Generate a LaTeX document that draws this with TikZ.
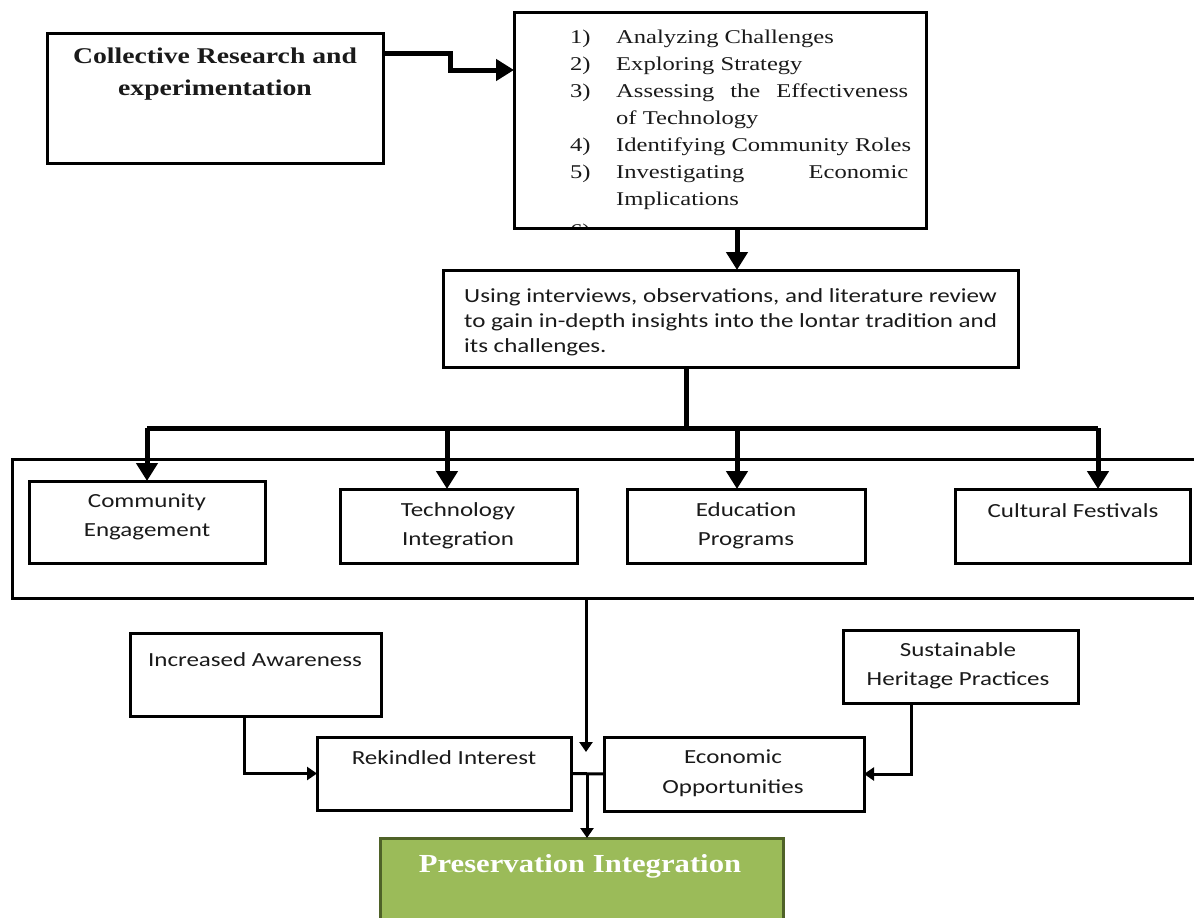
\documentclass[tikz,border=0pt]{standalone}
\usepackage{fontspec}
\setmainfont{Liberation Serif}
\newfontfamily\wserif[FakeStretch=1.26]{Liberation Serif}
\newfontfamily\wserifB[FakeStretch=1.23]{Liberation Serif}
\newfontfamily\wserifP[FakeStretch=1.18]{Liberation Serif}
\newfontfamily\wsans[FakeStretch=1.25]{Carlito}
\usetikzlibrary{arrows.meta}
\definecolor{pgreen}{HTML}{9BBB59}
\definecolor{pborder}{HTML}{4F6228}
\definecolor{txt}{HTML}{1A1A1A}
\begin{document}
\begin{tikzpicture}[x=1pt,y=-1pt,
  box/.style={draw, line width=3pt, inner sep=0pt, outer sep=0pt, fill=white},
  bigline/.style={line width=5pt},
  bigarrow/.style={line width=5pt, -{Triangle[length=18pt,width=21pt]}},
  smallarrow/.style={line width=3pt, -{Triangle[length=10pt,width=13pt]}},
  smallline/.style={line width=3pt},
  serift/.style={font=\wserif\fontsize{19.5}{27}\selectfont, inner sep=0pt, text=txt, anchor=base west},
  sanst/.style={font=\wsans\fontsize{20}{29.5}\selectfont, inner sep=0pt, align=center, text=txt},
]
\useasboundingbox (0,0) rectangle (1194,918);

% helper coordinates
\coordinate (y53) at (0,53);
\coordinate (y70) at (0,70);
\coordinate (xa) at (737,0);
\coordinate (xb) at (686,0);
\coordinate (bus) at (686,428);
\coordinate (xt) at (447,0);
\coordinate (xc) at (1098,0);
\coordinate (xd) at (586,0);
\coordinate (xi) at (244,0);
\coordinate (xs) at (911,0);
\coordinate (xj) at (587,0);
\coordinate (mid) at (586,752);

% boxes
\node[box, minimum width=336pt, minimum height=130pt] (cr) at (215,98) {};
\node[box, minimum width=412pt, minimum height=216pt] (list) at (720,120) {};
\node[box, minimum width=575pt, minimum height=97pt] (using) at (730.5,318.5) {};
\node[box, minimum width=1185pt, minimum height=139pt] (cont) at (604.5,528.5) {};
\node[box, minimum width=236pt, minimum height=82pt] (comm) at (147,522) {};
\node[box, minimum width=237pt, minimum height=74pt] (tech) at (458.5,526) {};
\node[box, minimum width=238pt, minimum height=74pt] (edu) at (746,526) {};
\node[box, minimum width=235pt, minimum height=74pt] (cult) at (1072.5,526) {};
\node[box, minimum width=251pt, minimum height=83pt] (inc) at (255.5,674.5) {};
\node[box, minimum width=254pt, minimum height=73pt] (rek) at (444,773.5) {};
\node[box, minimum width=235pt, minimum height=73pt] (sus) at (960.5,666.5) {};
\node[box, minimum width=260pt, minimum height=74pt] (econ) at (734,774) {};
\node[box, draw=pborder, fill=pgreen, minimum width=403pt, minimum height=90pt] (pres) at (581.5,883) {};

% texts
\node[font=\wserifB\bfseries\fontsize{22.5}{32}\selectfont, align=center, inner sep=0pt, text=txt] (crT) at (215,74)
  {Collective Research and\\experimentation};

\node[serift] (n1) at (570,43) {1)};
\node[serift] (t1) at (616,43) {Analyzing Challenges};
\node[serift] (n2) at (570,70) {2)};
\node[serift] (t2) at (616,70) {Exploring Strategy};
\node[serift] (n3) at (570,97) {3)};
\node[serift] (t3) at (616,97) {\makebox[292pt][s]{Assessing the Effectiveness}};
\node[serift] (t3b) at (616,124) {of Technology};
\node[serift] (n4) at (570,151) {4)};
\node[serift] (t4) at (616,151) {Identifying Community Roles};
\node[serift] (n5) at (570,178) {5)};
\node[serift] (t5) at (616,178) {\makebox[292pt][s]{Investigating Economic}};
\node[serift] (t5b) at (616,205) {Implications};
\begin{scope}
\clip (517,200) rectangle (923,226.5);
\node[serift] (n6) at (570,237) {6)};
\end{scope}

\node[font=\wsans\fontsize{20}{25}\selectfont, inner sep=0pt, text=txt, align=left, anchor=base west] (usingT) at (464,352)
  {Using interviews, observations, and literature review\\to gain in-depth insights into the lontar tradition and\\its challenges.};

\node[sanst] (commT) at (147,517) {Community\\Engagement};
\node[sanst] (techT) at (458,526) {Technology\\Integration};
\node[sanst] (eduT) at (746,526) {Education\\Programs};
\node[sanst] (cultT) at (1073,511) {Cultural Festivals};
\node[sanst] (incT) at (255,660) {Increased Awareness};
\node[sanst] (rekT) at (444,758) {Rekindled Interest};
\node[sanst] (susT) at (958,666) {Sustainable\\Heritage Practices};
\node[sanst] (econT) at (733,773) {Economic\\Opportunities};
\node[font=\wserifP\bfseries\fontsize{26}{30}\selectfont, text=white, inner sep=0pt] (presT) at (580,866) {Preservation Integration};

% connectors (top)
\draw[bigarrow] (cr.east |- y53) -- (450,53) -- (450,70) -- (list.west |- y70);
\draw[bigarrow] (list.south -| xa) -- (using.north -| xa);
\draw[bigline] (using.south -| xb) -- (bus);
\draw[bigline] (147,428) -- (1098,428);
\draw[bigarrow] (comm.north |- bus) -- (comm.north);
\draw[bigarrow] (bus -| xt) -- (tech.north -| xt);
\draw[bigarrow] (bus -| xa) -- (edu.north -| xa);
\draw[bigarrow] (bus -| xc) -- (cult.north -| xc);

% connectors (bottom)
\draw[smallarrow] (cont.south -| xd) -- (mid);
\draw[smallarrow] (inc.south -| xi) |- (rek.west);
\draw[smallarrow] (sus.south -| xs) |- (econ.east);
\draw[smallline] (rek.east) -- (econ.west);
\draw[smallarrow] (rek.east -| xj) -- (pres.north -| xj);
\end{tikzpicture}
\end{document}
